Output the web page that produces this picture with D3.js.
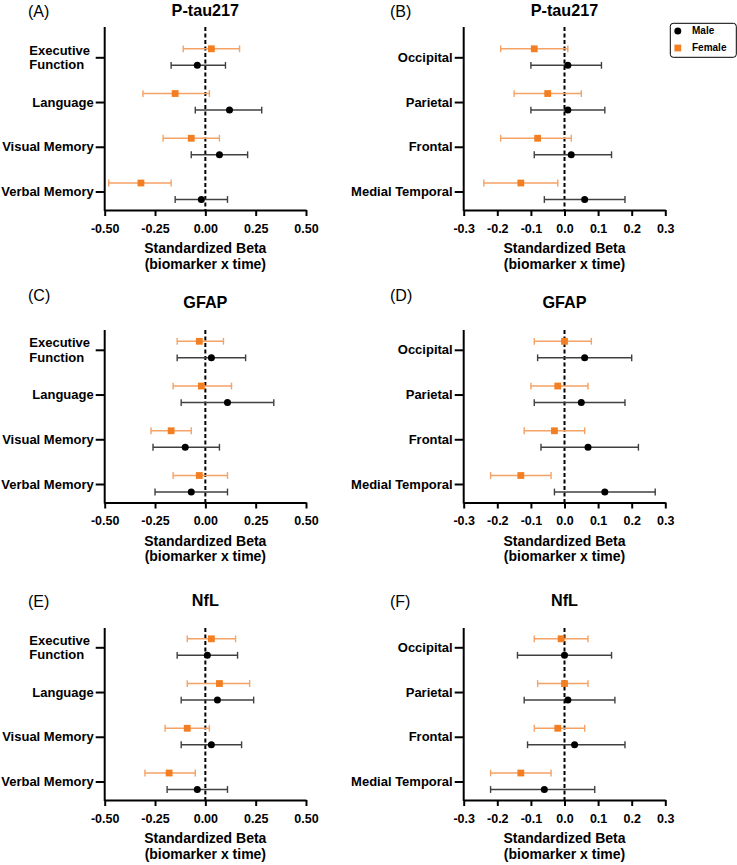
<!DOCTYPE html>
<html>
<head>
<meta charset="utf-8">
<script src="https://cdn.jsdelivr.net/npm/d3@7"></script>
<style>
  body { margin: 0; background: #fff; }
  svg { font-family: "Liberation Sans", Arial, sans-serif; }
</style>
</head>
<body>
<script>
// Size of the figure
const width = 737;
const height = 865;
const orange = '#f37f22';
const orangeBar = '#f4a266';
const maleBar = '#404040';

// Categories
const cognitive = ["Executive Function", "Language", "Visual Memory", "Verbal Memory"];
const regions = ["Occipital", "Parietal", "Frontal", "Medial Temporal"];
const biomarkers = ["P-tau217", "GFAP", "NfL"];
const letters = [["(A)", "(B)"], ["(C)", "(D)"], ["(E)", "(F)"]];
const cogTicks = [-0.5, -0.25, 0, 0.25, 0.5];
const regTicks = [-0.3, -0.2, -0.1, 0, 0.1, 0.2, 0.3];

// Values: [estimate, lower, upper] in category order
const ptauCogMale   = [[-0.04, -0.17, 0.10], [0.12, -0.05, 0.28], [0.07, -0.07, 0.21], [-0.02, -0.15, 0.11]];
const ptauCogFemale = [[0.03, -0.11, 0.17], [-0.15, -0.31, 0.02], [-0.07, -0.21, 0.07], [-0.32, -0.48, -0.17]];
const ptauRegMale   = [[0.01, -0.10, 0.11], [0.01, -0.10, 0.12], [0.02, -0.09, 0.14], [0.06, -0.06, 0.18]];
const ptauRegFemale = [[-0.09, -0.19, 0.01], [-0.05, -0.15, 0.05], [-0.08, -0.19, 0.02], [-0.13, -0.24, -0.02]];
const gfapCogMale   = [[0.03, -0.14, 0.20], [0.11, -0.12, 0.34], [-0.10, -0.26, 0.07], [-0.07, -0.25, 0.11]];
const gfapCogFemale = [[-0.03, -0.14, 0.09], [-0.02, -0.16, 0.13], [-0.17, -0.27, -0.07], [-0.03, -0.16, 0.11]];
const gfapRegMale   = [[0.06, -0.08, 0.20], [0.05, -0.09, 0.18], [0.07, -0.07, 0.22], [0.12, -0.03, 0.27]];
const gfapRegFemale = [[0.00, -0.09, 0.08], [-0.02, -0.10, 0.07], [-0.03, -0.12, 0.06], [-0.13, -0.22, -0.04]];
const nflCogMale    = [[0.01, -0.14, 0.16], [0.06, -0.12, 0.24], [0.03, -0.12, 0.18], [-0.04, -0.19, 0.11]];
const nflCogFemale  = [[0.03, -0.09, 0.15], [0.07, -0.09, 0.22], [-0.09, -0.20, 0.02], [-0.18, -0.30, -0.05]];
const nflRegMale    = [[0.00, -0.14, 0.14], [0.01, -0.12, 0.15], [0.03, -0.11, 0.18], [-0.06, -0.22, 0.09]];
const nflRegFemale  = [[-0.01, -0.09, 0.07], [0.00, -0.08, 0.07], [-0.02, -0.09, 0.06], [-0.13, -0.22, -0.04]];

const maleSets = [[ptauCogMale, ptauRegMale], [gfapCogMale, gfapRegMale], [nflCogMale, nflRegMale]];
const femaleSets = [[ptauCogFemale, ptauRegFemale], [gfapCogFemale, gfapRegFemale], [nflCogFemale, nflRegFemale]];

// Layout
const rowTop = [0, 292.5, 590];
const rowAxisTop = [27, 37.5, 38];
const rowLetterY = [11, 3, 11];
const colX = [[104.7, 306], [463.7, 665.3]];
const letterX = [28, 390];

const svg = d3.select('body')
  .append('svg')
  .attr('width', width)
  .attr('height', height);

biomarkers.forEach((bio, r) => {
  [0, 1].forEach(c => {
    const cats = c === 0 ? cognitive : regions;
    const ticks = c === 0 ? cogTicks : regTicks;
    const [x0, x1] = colX[c];
    const g = svg.append('g').attr('transform', `translate(0, ${rowTop[r]})`);

    const x = d3.scaleLinear()
      .domain(d3.extent(ticks))
      .range([x0, x1]);
    const y = d3.scalePoint()
      .domain(cats)
      .range([57.3, 191.5]);
    const axisTop = rowAxisTop[r];
    const axisBottom = 210;

    // Panel letter and title
    g.append('text')
      .attr('x', letterX[c])
      .attr('y', rowLetterY[r])
      .attr('dy', '0.35em')
      .style('font-size', '16px')
      .text(letters[r][c]);
    g.append('text')
      .attr('x', (x0 + x1) / 2)
      .attr('y', 10)
      .attr('dy', '0.35em')
      .attr('text-anchor', 'middle')
      .style('font-size', '16.2px')
      .style('font-weight', 'bold')
      .text(bio);

    // Axe horizontal
    g.append('g')
      .attr('transform', `translate(0, ${axisBottom})`)
      .call(d3.axisBottom(x)
        .tickValues(ticks)
        .tickSize(6)
        .tickSizeOuter(0)
        .tickPadding(8)
        .tickFormat(d3.format(c === 0 ? '.2f' : '.1f')))
      .call(a => a.selectAll('path, line').attr('stroke', '#000').attr('stroke-width', 2))
      .call(a => a.selectAll('text')
        .style('font-size', '12.5px')
        .style('font-weight', 'bold')
        .attr('font-family', null)
        .text(d => d3.format(c === 0 ? '.2f' : '.1f')(d).replace('−', '-')));

    // Axe vertical
    const yAxis = g.append('g')
      .attr('transform', `translate(${x0}, 0)`)
      .call(d3.axisLeft(y).tickSize(9).tickPadding(2))
      .call(a => a.select('.domain').remove())
      .call(a => a.selectAll('line').attr('stroke', '#000').attr('stroke-width', 2));
    yAxis.selectAll('text')
      .attr('font-family', null)
      .style('font-size', '13px')
      .style('font-weight', 'bold');
    yAxis.selectAll('text')
      .filter(d => d === "Executive Function")
      .each(function(d) {
        const t = d3.select(this).text(null).attr('text-anchor', 'start').attr('dy', null);
        const words = d.split(' ');
        const spans = words.map((w, i) => t.append('tspan')
          .attr('y', i === 0 ? -7.7 : 7)
          .attr('dy', '0.35em')
          .text(w));
        const w = spans[0].node().getComputedTextLength();
        spans.forEach(s => s.attr('x', -14.7 - w));
      });
    g.append('line')
      .attr('x1', x0).attr('x2', x0)
      .attr('y1', axisTop).attr('y2', axisBottom + 1)
      .attr('stroke', '#000')
      .attr('stroke-width', 2);

    // Zero line
    g.append('line')
      .attr('x1', x(0)).attr('x2', x(0))
      .attr('y1', axisTop).attr('y2', axisBottom)
      .attr('stroke', '#000')
      .attr('stroke-width', 2)
      .attr('stroke-dasharray', '4,2.5');

    // Error bars
    const series = [
      { vals: femaleSets[r][c], off: -8.5, bar: orangeBar, kind: 'square' },
      { vals: maleSets[r][c], off: 8, bar: maleBar, kind: 'circle' }
    ];
    series.forEach(s => {
      const rows = s.vals.map((v, i) => ({ cat: cats[i], est: v[0], lo: v[1], hi: v[2] }));
      const eb = g.append('g')
        .attr('stroke', s.bar)
        .attr('stroke-width', 1.4)
        .selectAll('g')
        .data(rows)
        .enter()
        .append('g')
        .attr('transform', d => `translate(0, ${y(d.cat) + s.off})`);
      eb.append('line').attr('x1', d => x(d.lo)).attr('x2', d => x(d.hi));
      eb.append('line').attr('x1', d => x(d.lo)).attr('x2', d => x(d.lo)).attr('y1', -3.4).attr('y2', 3.4);
      eb.append('line').attr('x1', d => x(d.hi)).attr('x2', d => x(d.hi)).attr('y1', -3.4).attr('y2', 3.4);

      if (s.kind === 'square') {
        g.append('g').selectAll('rect')
          .data(rows)
          .enter()
          .append('rect')
          .attr('x', d => x(d.est) - 3.4)
          .attr('y', d => y(d.cat) + s.off - 3.4)
          .attr('width', 6.8)
          .attr('height', 6.8)
          .attr('fill', orange);
      } else {
        g.append('g').selectAll('circle')
          .data(rows)
          .enter()
          .append('circle')
          .attr('cx', d => x(d.est))
          .attr('cy', d => y(d.cat) + s.off)
          .attr('r', 3.5)
          .attr('fill', '#000');
      }
    });

    // Axis title
    const title = g.append('text')
      .attr('text-anchor', 'middle')
      .style('font-size', '14px')
      .style('font-weight', 'bold');
    title.append('tspan').attr('x', (x0 + x1) / 2).attr('y', 248.3).attr('dy', '0.35em').text('Standardized Beta');
    title.append('tspan').attr('x', (x0 + x1) / 2).attr('y', 264).attr('dy', '0.35em').text('(biomarker x time)');
  });
});

// Legend
const legend = svg.append('g').attr('transform', 'translate(670.3, 23.3)');
legend.append('rect')
  .attr('width', 66).attr('height', 34).attr('rx', 3)
  .attr('fill', '#fff').attr('stroke', '#000').attr('stroke-width', 1);
legend.append('circle').attr('cx', 7.5).attr('cy', 7.7).attr('r', 3.5).attr('fill', '#000');
legend.append('rect').attr('x', 4.1).attr('y', 21.3).attr('width', 6.8).attr('height', 6.8).attr('fill', orange);
legend.selectAll('text.lab')
  .data(['Male', 'Female'])
  .enter()
  .append('text')
  .attr('x', 21.7)
  .attr('y', (d, i) => i === 0 ? 7.7 : 24.7)
  .attr('dy', '0.35em')
  .style('font-size', '10px')
  .style('font-weight', 'bold')
  .text(d => d);
</script>
</body>
</html>
